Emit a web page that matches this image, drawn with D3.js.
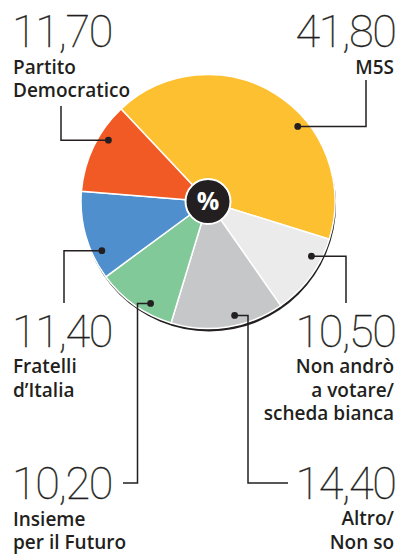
<!DOCTYPE html>
<html>
<head>
<meta charset="utf-8">
<script src="https://cdn.jsdelivr.net/npm/d3@7"></script>
<style>
  html, body { margin: 0; padding: 0; background: #fff; }
  svg { display: block; }
  .num { font-family: Roboto, "Open Sans", sans-serif; font-weight: 100; font-size: 45px; letter-spacing: -1.4px; fill: #231f20; stroke: #231f20; stroke-width: 0.35px; }
  .lab { font-family: "Open Sans", Roboto, sans-serif; font-weight: 600; font-size: 19px; fill: #231f20; }
</style>
</head>
<body>
<div id="chart"></div>
<script>
// dati (ordine orario a partire dallo spicchio giallo)
const parties = ["M5S", "Non andrò a votare/ scheda bianca", "Altro/ Non so", "Insieme per il Futuro", "Fratelli d’Italia", "Partito Democratico"];
const values = [41.8, 10.5, 14.4, 10.2, 11.4, 11.7];
const valueLabels = ["41,80", "10,50", "14,40", "10,20", "11,40", "11,70"];
const labelLines = [
  ["M5S"],
  ["Non andrò", "a votare/", "scheda bianca"],
  ["Altro/", "Non so"],
  ["Insieme", "per il Futuro"],
  ["Fratelli", "d’Italia"],
  ["Partito", "Democratico"]
];
const colors = ["#fdc030", "#ebebeb", "#c6c7c8", "#82c99a", "#508fce", "#f15a24"];

const W = 400, H = 556;
const CX = 208, CY = 201.5, R = 127, DOT_R = 117;

// posizione dei richiami: frazione dello spicchio per il punto, gomito, fine linea, testo
const callouts = [
  { frac: 0.62, elbowX: 366, endY: 80,  tail: null, anchor: "end",   x: 395.5, y: 47 },
  { frac: 0.28, elbowX: 346, endY: 303, tail: null, anchor: "end",   x: 395.5, y: 346.5 },
  { frac: 0.42, elbowX: 248, endY: 483, tail: 288,  anchor: "end",   x: 395.5, y: 498.5 },
  { frac: 0.34, elbowX: 137.5, endY: 483, tail: 123, anchor: "start", x: 12, y: 499 },
  { frac: 0.28, elbowX: 64, endY: 303, tail: null, anchor: "start", x: 12, y: 346.5 },
  { frac: 0.64, elbowX: 61, endY: 106, tail: null, anchor: "start", x: 12, y: 47 }
];

const svg = d3.select("#chart").append("svg")
  .attr("width", W)
  .attr("height", H);

const g = svg.append("g").attr("transform", `translate(${CX},${CY})`);

const pie = d3.pie().sort(null)
  .startAngle(-43.2 * Math.PI / 180)
  .endAngle((360 - 43.2) * Math.PI / 180);
const arcs = pie(values);
const arc = d3.arc().innerRadius(0).outerRadius(R);

// ombra scura sotto la torta
g.append("circle")
  .attr("cx", 1)
  .attr("cy", 3)
  .attr("r", R)
  .attr("fill", "#231f20");

g.selectAll("path.slice")
  .data(arcs)
  .enter()
  .append("path")
  .attr("class", "slice")
  .attr("d", arc)
  .attr("fill", (d, i) => colors[i])
  .attr("stroke", "#fff")
  .attr("stroke-width", 1.5)
  .attr("stroke-linejoin", "round");

// centro con %
g.append("circle")
  .attr("r", 22.5)
  .attr("fill", "#231f20")
  .attr("stroke", "#fff")
  .attr("stroke-width", 2);
g.append("text")
  .attr("text-anchor", "middle")
  .attr("y", 8.5)
  .style("font-family", "'Open Sans', sans-serif")
  .style("font-weight", 700)
  .style("font-size", "25px")
  .style("fill", "#fff")
  .text("%");

// richiami
arcs.forEach((d, i) => {
  const c = callouts[i];
  const a = d.startAngle + c.frac * (d.endAngle - d.startAngle);
  const px = CX + DOT_R * Math.sin(a);
  const py = CY - DOT_R * Math.cos(a);
  const pts = [[px, py], [c.elbowX, py], [c.elbowX, c.endY]];
  if (c.tail !== null) pts.push([c.tail, c.endY]);

  svg.append("path")
    .attr("d", d3.line()(pts))
    .attr("fill", "none")
    .attr("stroke", "#231f20")
    .attr("stroke-width", 1.5);

  svg.append("circle")
    .attr("cx", px)
    .attr("cy", py)
    .attr("r", 3.4)
    .attr("fill", "#231f20");

  svg.append("text")
    .attr("class", "num")
    .attr("x", c.x)
    .attr("y", c.y)
    .attr("text-anchor", c.anchor)
    .text(valueLabels[i]);

  const t = svg.append("text")
    .attr("class", "lab")
    .attr("text-anchor", c.anchor);
  labelLines[i].forEach((line, j) => {
    t.append("tspan")
      .attr("x", c.x + (c.anchor === "start" ? 1 : -1.5))
      .attr("y", c.y + 26.5 + j * 23.5)
      .text(line);
  });
});
</script>
</body>
</html>
